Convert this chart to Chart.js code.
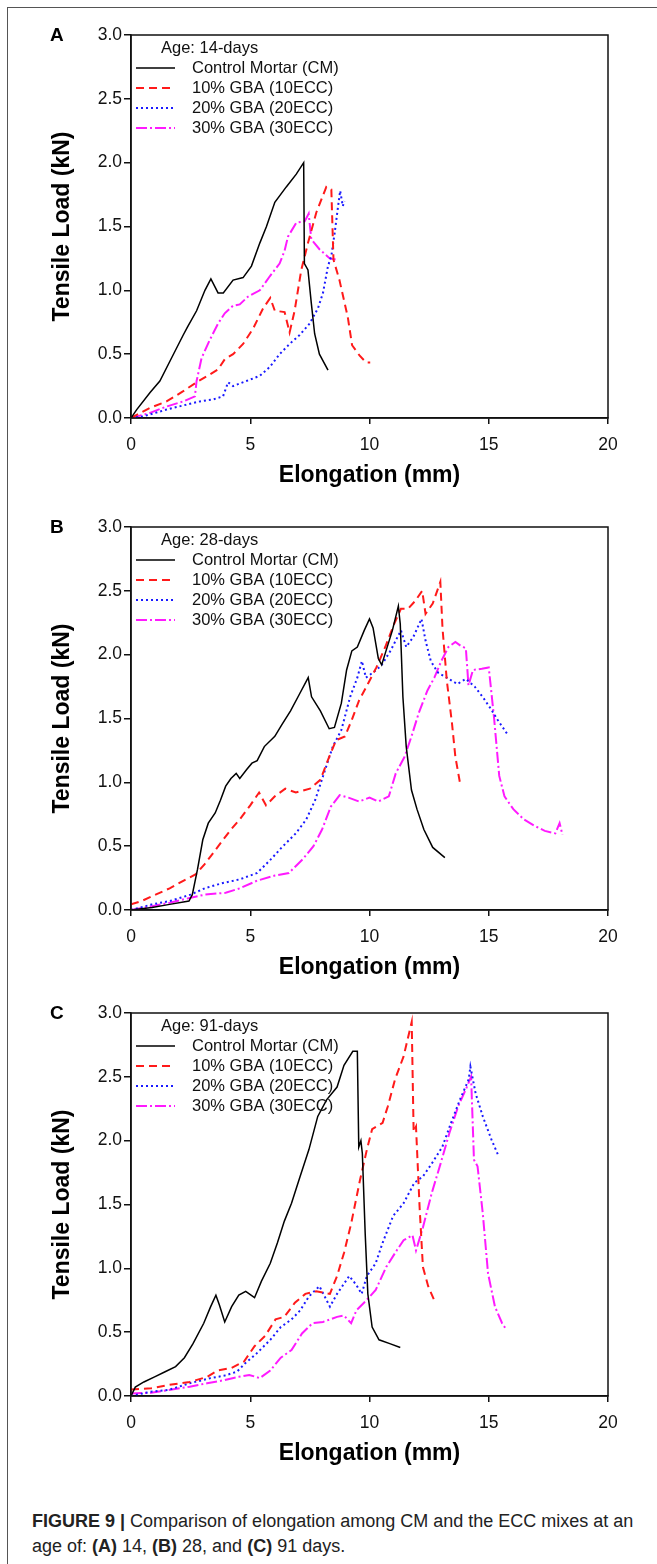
<!DOCTYPE html>
<html>
<head>
<meta charset="utf-8">
<script src="https://cdn.jsdelivr.net/npm/chart.js@4.4.1/dist/chart.umd.min.js"></script>
<style>
  html, body { margin: 0; padding: 0; background: #fff; }
  #page { position: relative; width: 657px; height: 1564px; overflow: hidden; background: #fff; }
  #frame { position: absolute; left: 7px; top: 7px; width: 700px; height: 1600px;
           border-top: 1.5px solid #555; border-left: 1.5px solid #555; }
  canvas.panel { position: absolute; left: 0; }
  #caption { position: absolute; left: 32px; top: 1509px; font-family: "Liberation Sans", Arial, sans-serif;
             font-size: 18px; line-height: 25px; color: #222; white-space: nowrap; }
  #caption b { font-weight: bold; }
</style>
</head>
<body>
<div id="page">
  <div id="frame"></div>
  <canvas id="cA" class="panel" width="657" height="492" style="top:0px"></canvas>
  <canvas id="cB" class="panel" width="657" height="492" style="top:492px"></canvas>
  <canvas id="cC" class="panel" width="657" height="492" style="top:978px"></canvas>
  <div id="caption"><b>FIGURE 9 |</b> Comparison of elongation among CM and the ECC mixes at an<br>age of: <b>(A)</b> 14, <b>(B)</b> 28, and <b>(C)</b> 91 days.</div>
</div>
<script>
// ---------- axis ticks / labels ----------
const X_MIN = 0, X_MAX = 20, X_STEP = 5;
const Y_MIN = 0, Y_MAX = 3, Y_STEP = 0.5;
const X_TITLE = "Elongation (mm)";
const Y_TITLE = "Tensile Load (kN)";
const SERIES_NAMES = ["Control Mortar (CM)", "10% GBA (10ECC)", "20% GBA (20ECC)", "30% GBA (30ECC)"];
const PANEL_LETTERS = ["A", "B", "C"];
const PANEL_AGES = ["Age: 14-days", "Age: 28-days", "Age: 91-days"];

// ---------- Panel A (14 days): [elongation mm, load kN] ----------
const A_CM = [[0,0],[0.24,0.066],[0.8,0.2],[1.21,0.29],[1.7,0.47],[2.19,0.65],[2.36,0.71],[2.75,0.84],[3.1,1.0],[3.35,1.09],[3.65,0.98],[3.87,0.98],[4.28,1.08],[4.7,1.1],[5.05,1.19],[5.4,1.37],[5.68,1.5],[6.03,1.69],[6.51,1.81],[6.93,1.91],[7.24,2.0],[7.27,1.21],[7.42,1.16],[7.56,0.9],[7.7,0.66],[7.9,0.5],[8.26,0.375]];
const A_10 = [[0,0],[0.8,0.08],[1.49,0.13],[2.19,0.21],[2.75,0.28],[3.3,0.34],[3.65,0.38],[3.93,0.46],[4.28,0.5],[4.7,0.58],[5.12,0.7],[5.54,0.86],[5.84,0.94],[6.03,0.84],[6.44,0.83],[6.65,0.67],[6.86,0.84],[7.14,1.16],[7.42,1.37],[7.77,1.61],[8.19,1.81],[8.4,1.79],[8.49,1.24],[8.74,1.08],[9.09,0.79],[9.27,0.57],[9.58,0.49],[9.86,0.435],[10.03,0.435]];
const A_20 = [[0,0],[0.52,0.013],[1.49,0.066],[2.33,0.105],[2.89,0.13],[3.44,0.145],[3.86,0.17],[4.07,0.28],[4.28,0.25],[4.84,0.29],[5.4,0.33],[5.82,0.4],[6.23,0.5],[6.65,0.58],[7.07,0.65],[7.49,0.74],[7.84,0.86],[8.05,0.98],[8.26,1.19],[8.4,1.27],[8.54,1.45],[8.67,1.64],[8.77,1.78],[8.88,1.66],[8.95,1.7]];
const A_30 = [[0,0],[0.8,0.04],[1.49,0.09],[2.19,0.13],[2.68,0.17],[2.75,0.29],[2.96,0.47],[3.3,0.61],[3.65,0.74],[3.93,0.82],[4.28,0.88],[4.56,0.89],[4.9,0.95],[5.4,1.0],[5.82,1.11],[6.23,1.21],[6.44,1.31],[6.58,1.42],[6.93,1.53],[7.28,1.54],[7.45,1.6],[7.56,1.4],[7.91,1.32],[8.33,1.25],[8.61,1.24]];

// ---------- Panel B (28 days) ----------
const B_CM = [[0,0],[0.88,0.02],[1.62,0.044],[2.43,0.07],[2.57,0.12],[2.79,0.32],[3.01,0.55],[3.24,0.68],[3.53,0.76],[3.75,0.86],[3.97,0.97],[4.19,1.03],[4.41,1.07],[4.56,1.03],[4.85,1.1],[5.07,1.15],[5.29,1.17],[5.59,1.28],[6.03,1.36],[6.32,1.45],[6.69,1.56],[7.06,1.69],[7.43,1.82],[7.57,1.67],[7.94,1.56],[8.31,1.42],[8.53,1.43],[8.82,1.62],[9.04,1.88],[9.26,2.03],[9.49,2.06],[9.78,2.19],[10.0,2.28],[10.15,2.21],[10.37,1.97],[10.51,1.92],[10.66,2.01],[10.96,2.19],[11.21,2.38],[11.29,2.24],[11.4,1.67],[11.54,1.28],[11.76,0.94],[11.99,0.79],[12.28,0.63],[12.65,0.49],[13.16,0.41]];
const B_10 = [[0,0.044],[0.44,0.07],[1.03,0.12],[1.62,0.17],[2.21,0.23],[2.72,0.28],[3.09,0.36],[3.46,0.45],[3.82,0.54],[4.19,0.63],[4.56,0.71],[5.0,0.82],[5.37,0.92],[5.66,0.82],[6.03,0.89],[6.47,0.95],[6.91,0.92],[7.5,0.95],[7.94,1.02],[8.31,1.2],[8.6,1.33],[8.97,1.36],[9.26,1.49],[9.56,1.64],[9.93,1.77],[10.29,1.9],[10.66,2.06],[11.03,2.24],[11.32,2.36],[11.62,2.36],[11.91,2.42],[12.21,2.5],[12.35,2.32],[12.65,2.4],[12.97,2.57],[13.06,2.21],[13.24,1.8],[13.46,1.46],[13.6,1.2],[13.79,1.0]];
const B_20 = [[0,0],[0.88,0.044],[1.62,0.07],[2.5,0.12],[3.09,0.17],[3.82,0.21],[4.56,0.24],[5.29,0.29],[5.88,0.4],[6.32,0.49],[6.91,0.6],[7.35,0.71],[7.72,0.86],[8.09,1.07],[8.46,1.28],[8.82,1.41],[9.19,1.67],[9.49,1.82],[9.68,1.95],[9.85,1.82],[10.29,1.88],[10.51,1.92],[10.88,2.03],[11.18,2.14],[11.32,2.19],[11.54,2.06],[11.84,2.14],[12.18,2.28],[12.35,2.11],[12.57,1.95],[12.87,1.86],[13.24,1.82],[13.68,1.77],[14.04,1.81],[14.41,1.75],[14.78,1.66],[15.07,1.58],[15.37,1.49],[15.81,1.37]];
const B_30 = [[0,0],[0.88,0.03],[1.62,0.057],[2.5,0.096],[3.09,0.12],[3.97,0.135],[4.56,0.17],[5.29,0.23],[6.03,0.27],[6.62,0.29],[7.21,0.4],[7.65,0.5],[8.01,0.63],[8.38,0.81],[8.75,0.9],[9.12,0.88],[9.56,0.85],[10.0,0.88],[10.37,0.85],[10.81,0.89],[11.1,1.07],[11.47,1.2],[11.76,1.36],[12.06,1.54],[12.43,1.72],[12.72,1.82],[13.01,1.95],[13.31,2.06],[13.6,2.1],[13.82,2.07],[14.04,2.05],[14.15,1.76],[14.34,1.88],[14.71,1.89],[15.0,1.9],[15.22,1.51],[15.44,1.05],[15.66,0.89],[16.03,0.79],[16.47,0.71],[16.91,0.66],[17.35,0.62],[17.79,0.6],[17.97,0.68],[18.09,0.59]];

// ---------- Panel C (91 days) ----------
const C_CM = [[0,0],[0.18,0.07],[0.54,0.11],[0.99,0.15],[1.43,0.19],[1.87,0.23],[2.24,0.3],[2.6,0.41],[3.05,0.57],[3.34,0.7],[3.56,0.79],[3.71,0.71],[3.93,0.58],[4.22,0.7],[4.52,0.79],[4.81,0.82],[5.18,0.77],[5.47,0.9],[5.84,1.04],[6.14,1.2],[6.43,1.37],[6.73,1.51],[7.09,1.72],[7.46,1.93],[7.83,2.19],[8.2,2.32],[8.64,2.42],[8.93,2.59],[9.3,2.7],[9.49,2.7],[9.55,1.95],[9.64,2.0],[9.7,1.9],[9.82,1.27],[9.93,0.8],[10.11,0.54],[10.4,0.44],[10.85,0.41],[11.29,0.38]];
const C_10 = [[0,0.05],[0.84,0.06],[1.57,0.086],[2.46,0.11],[3.19,0.15],[3.64,0.2],[4.22,0.22],[4.74,0.27],[5.18,0.39],[5.62,0.47],[6.06,0.6],[6.43,0.62],[6.87,0.73],[7.31,0.8],[7.76,0.82],[8.34,0.8],[8.64,0.94],[8.93,1.12],[9.23,1.35],[9.6,1.69],[9.89,1.93],[10.11,2.09],[10.55,2.14],[10.77,2.27],[11.07,2.48],[11.43,2.66],[11.77,2.93],[11.85,2.07],[11.95,2.11],[12.1,1.48],[12.24,1.01],[12.46,0.86],[12.76,0.73]];
const C_20 = [[0,0],[0.84,0.034],[1.57,0.047],[2.46,0.1],[3.34,0.14],[3.93,0.16],[4.44,0.19],[4.81,0.26],[5.25,0.33],[5.84,0.44],[6.28,0.54],[6.73,0.6],[7.09,0.67],[7.46,0.78],[7.9,0.86],[8.34,0.7],[8.64,0.8],[9.15,0.94],[9.45,0.87],[9.67,0.8],[9.89,0.94],[10.26,1.04],[10.55,1.2],[10.99,1.41],[11.43,1.51],[11.88,1.67],[12.24,1.72],[12.61,1.82],[13.05,1.95],[13.42,2.14],[13.79,2.32],[14.16,2.48],[14.23,2.58],[14.45,2.37],[14.75,2.19],[15.11,2.01],[15.41,1.88]];
const C_30 = [[0,0.02],[0.84,0.026],[1.57,0.047],[2.46,0.073],[3.19,0.1],[3.93,0.125],[4.52,0.15],[4.96,0.165],[5.4,0.14],[5.84,0.2],[6.28,0.3],[6.73,0.36],[7.17,0.49],[7.61,0.57],[8.05,0.58],[8.64,0.62],[8.93,0.63],[9.23,0.57],[9.45,0.67],[9.82,0.74],[10.26,0.83],[10.7,1.01],[11.14,1.14],[11.43,1.22],[11.8,1.26],[11.95,1.14],[12.24,1.32],[12.61,1.59],[12.98,1.82],[13.35,2.06],[13.72,2.27],[14.08,2.42],[14.26,2.5],[14.38,1.85],[14.53,1.8],[14.75,1.43],[14.97,0.96],[15.26,0.7],[15.56,0.57],[15.7,0.53]];

// ---------- styles ----------
const STYLES = [
  { color: "#000000", dash: [],            width: 1.5 },
  { color: "#ff1a1a", dash: [8, 5],        width: 2 },
  { color: "#1a1aff", dash: [2, 3],        width: 2 },
  { color: "#ff1aff", dash: [11, 3, 2, 3], width: 2 }
];
const FONT = '"Liberation Sans", Arial, sans-serif';

function toXY(arr) { return arr.map(p => ({ x: p[0], y: p[1] })); }

const panelDecor = {
  id: 'panelDecor',
  afterDraw(chart, args, opts) {
    const { ctx, chartArea: a } = chart;
    ctx.save();
    ctx.strokeStyle = '#111';
    ctx.lineWidth = 1.5;
    ctx.setLineDash([]);
    ctx.strokeRect(a.left, a.top, a.right - a.left, a.bottom - a.top);
    ctx.fillStyle = '#000';
    ctx.font = 'bold 19px ' + FONT;
    ctx.textAlign = 'left';
    ctx.textBaseline = 'middle';
    ctx.fillText(opts.letter, 50, a.top + 1);
    ctx.font = '16.5px ' + FONT;
    ctx.fillStyle = '#111';
    ctx.fillText(opts.age, 161, a.top + 13);
    chart.data.datasets.forEach((ds, i) => {
      const y = a.top + 33 + i * 20;
      ctx.strokeStyle = ds.borderColor;
      ctx.lineWidth = ds.borderWidth;
      ctx.setLineDash(ds.borderDash || []);
      ctx.beginPath();
      ctx.moveTo(136, y);
      ctx.lineTo(175, y);
      ctx.stroke();
      ctx.setLineDash([]);
      ctx.fillStyle = '#111';
      ctx.fillText(ds.label, 192, y);
    });
    ctx.restore();
  }
};

function makePanel(canvasId, letter, age, seriesList) {
  const datasets = seriesList.map((s, i) => ({
    label: SERIES_NAMES[i],
    data: toXY(s),
    showLine: true,
    borderColor: STYLES[i].color,
    backgroundColor: STYLES[i].color,
    borderWidth: STYLES[i].width,
    borderDash: STYLES[i].dash,
    pointRadius: 0,
    tension: 0,
    fill: false
  }));
  return new Chart(document.getElementById(canvasId), {
    type: 'scatter',
    data: { datasets },
    plugins: [panelDecor],
    options: {
      responsive: false,
      animation: false,
      devicePixelRatio: 1,
      layout: { padding: { top: 35, right: 49, left: 0, bottom: 3 } },
      plugins: {
        legend: { display: false },
        tooltip: { enabled: false },
        panelDecor: { letter, age }
      },
      scales: {
        x: {
          type: 'linear', min: X_MIN, max: X_MAX,
          afterFit: s => { s.height = 71; },
          ticks: { stepSize: X_STEP, color: '#111', font: { family: FONT, size: 17.5 }, padding: 11, maxRotation: 0 },
          grid: { drawOnChartArea: false, drawTicks: true, tickLength: 6, color: '#111', lineWidth: 1.5 },
          border: { display: true, color: '#111', width: 1.5 },
          title: { display: true, text: X_TITLE, color: '#000', font: { family: FONT, size: 23, weight: 'bold' }, padding: { top: 0, bottom: 0 } }
        },
        y: {
          type: 'linear', min: Y_MIN, max: Y_MAX,
          afterFit: s => { s.width = 131; },
          ticks: { stepSize: Y_STEP, color: '#111', font: { family: FONT, size: 17.5 }, padding: 2, callback: v => Number(v).toFixed(1) },
          grid: { drawOnChartArea: false, drawTicks: true, tickLength: 7, color: '#111', lineWidth: 1.5 },
          border: { display: true, color: '#111', width: 1.5 },
          title: { display: true, text: Y_TITLE, color: '#000', font: { family: FONT, size: 23, weight: 'bold' }, padding: { top: 49, bottom: 0 } }
        }
      }
    }
  });
}

makePanel('cA', PANEL_LETTERS[0], PANEL_AGES[0], [A_CM, A_10, A_20, A_30]);
makePanel('cB', PANEL_LETTERS[1], PANEL_AGES[1], [B_CM, B_10, B_20, B_30]);
makePanel('cC', PANEL_LETTERS[2], PANEL_AGES[2], [C_CM, C_10, C_20, C_30]);
</script>
</body>
</html>
